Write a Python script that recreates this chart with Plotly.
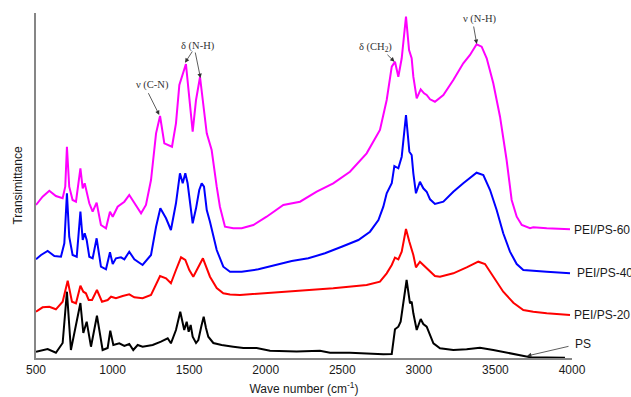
import plotly.graph_objects as go

# ---------------- data (wavenumber in cm^-1, transmittance in arbitrary units) ----------------
ps_wn = [500, 576, 630, 674, 702, 728, 790, 809, 831, 859, 898, 935, 968, 985, 1005, 1044, 1077, 1109,
         1135, 1164, 1196, 1262, 1316, 1360, 1381, 1414, 1442, 1468, 1484, 1497, 1510, 1523, 1545, 1560,
         1580, 1595, 1610, 1625, 1658, 1712, 1788, 1854, 1941, 2028, 2202, 2354, 2420, 2550, 2768, 2823,
         2844, 2866, 2881, 2920, 2942, 2953, 2964, 2986, 3012, 3029, 3051, 3073, 3095, 3138, 3225, 3312,
         3399, 3486, 3573, 3660, 3726, 3835, 3954]
ps_t = [6.3, 9, 5.3, 15, 66.3, 8, 55, 25, 36.3, 11.3, 42.3, 8, 10, 27.3, 13, 14.7, 12, 14,
        8, 13, 11.3, 13, 16.3, 19.7, 14.7, 28, 46.3, 28, 36.3, 26.3, 33, 21.3, 15, 18,
        32, 41.3, 30, 21.3, 15, 13, 11.3, 10, 10, 7.3, 6.5, 7.3, 5.3, 5.3, 3.7, 4,
        28.7, 31.3, 36.3, 78, 54.7, 56.3, 44.7, 28, 39, 34, 31.3, 23, 14.7, 9.7, 8, 8.7,
        10.3, 8, 5.3, 2.3, 0.8, 0.4, 0.2]

pei20_wn = [500, 543, 587, 630, 674, 707, 735, 761, 790, 809, 826, 844, 866, 898, 931, 968, 990, 1022,
            1066, 1109, 1142, 1196, 1251, 1310, 1349, 1381, 1414, 1447, 1475, 1501, 1527, 1566, 1590,
            1636, 1680, 1723, 1767, 1832, 1920, 2006, 2224, 2441, 2659, 2746, 2790, 2823, 2844, 2866,
            2888, 2916, 2938, 2953, 2964, 2981, 3007, 3029, 3062, 3105, 3138, 3225, 3312, 3388, 3432,
            3486, 3551, 3617, 3682, 3747, 3835, 3987]
pei20_t = [46.3, 50.7, 51.3, 48.7, 56.3, 77.3, 56.3, 54.7, 72.3, 66.3, 64.7, 58, 58, 68, 56.3, 58, 61.3, 59.7,
           62, 63.7, 60.7, 59.7, 63, 82, 79.7, 74.7, 88, 100.7, 98, 88, 81.3, 93, 99.7,
           81.3, 70, 64.7, 63.5, 63, 64, 64.7, 67, 69.7, 73, 76.3, 84.7, 93, 100.3, 98.7,
           106.3, 129, 116.3, 109.7, 103, 90.7, 96.3, 93, 88, 82, 81.3, 84.7, 90.7, 96.3, 94,
           81.3, 66.3, 55.3, 48, 46.3, 44.7, 43]

pei40_wn = [500, 533, 576, 620, 663, 685, 702, 717, 739, 766, 790, 805, 818, 831, 848, 870, 896, 924, 957,
            983, 1001, 1022, 1055, 1077, 1109, 1142, 1196, 1251, 1284, 1312, 1349, 1381, 1414, 1440, 1458,
            1475, 1490, 1506, 1523, 1545, 1566, 1582, 1597, 1615, 1636, 1680, 1723, 1767, 1843, 1952,
            2061, 2170, 2278, 2387, 2496, 2605, 2681, 2736, 2768, 2790, 2823, 2840, 2866, 2888, 2916,
            2938, 2953, 2964, 2981, 3007, 3029, 3051, 3073, 3105, 3160, 3225, 3290, 3334, 3377, 3421,
            3465, 3508, 3551, 3595, 3639, 3682, 3747, 3835, 3987]
pei40_t = [98.7, 103, 107, 102, 101.3, 114.7, 164.7, 121.3, 103, 101.3, 146.3, 118, 124.7, 118, 101.3, 99.7,
           119.7, 91.3, 88.7, 105.7, 94, 99.7, 100.7, 98.7, 106.3, 98.7, 93, 103, 131.3, 149.7, 139.7, 128,
           154.7, 184.7, 174.7, 184.7, 174.7, 154.7, 134.7, 149.7, 168, 174.7, 171.3, 148, 136.3, 108, 91.3,
           86.3, 86.3, 88.7, 93, 97, 99.7, 104.7, 111.3, 118, 126.3, 138, 151.3, 164.7, 174.7, 192, 189.7,
           201.3, 243, 206.3, 203, 184.7, 164.7, 176.3, 169.7, 166.3, 158.7, 154, 156.3, 166.3, 174.7,
           179.7, 185.3, 183, 168, 148, 124.7, 106.3, 94, 88, 87, 86.3, 84.7]

pei60_wn = [500, 543, 587, 630, 674, 691, 702, 717, 739, 761, 790, 805, 818, 831, 848, 870, 896, 924, 957,
            983, 1001, 1033, 1077, 1109, 1142, 1186, 1218, 1251, 1284, 1310, 1338, 1388, 1414, 1436, 1479,
            1506, 1523, 1545, 1571, 1615, 1647, 1680, 1701, 1734, 1788, 1843, 1919, 2006, 2115, 2224,
            2333, 2441, 2550, 2659, 2746, 2790, 2823, 2844, 2866, 2888, 2916, 2936, 2953, 2964, 2986,
            3012, 3034, 3051, 3073, 3105, 3160, 3225, 3290, 3334, 3377, 3410, 3443, 3486, 3530, 3573,
            3606, 3639, 3672, 3726, 3747, 3835, 3987]
pei60_t = [153, 161.3, 167.3, 162, 159.7, 171.3, 211.3, 171.3, 158, 156.3, 189.7, 169.7, 174.7, 166.3, 154.7,
           146.3, 155.3, 133, 129.7, 146.3, 141.3, 151.3, 156.3, 163, 154.7, 144.7, 153, 178, 224.7, 242,
           214.7, 211.3, 234.7, 273, 294, 251.3, 226.3, 258, 281, 224.7, 208, 171.3, 151.3, 131.3, 129.7,
           129.7, 133, 141.3, 153, 156.3, 166.3, 174.7, 186.3, 204.7, 228, 258, 291.3, 296.3, 281.3,
           299.7, 341.3, 308, 299.7, 281.3, 259.7, 268.7, 264.7, 263, 258.7, 256.3, 263, 278, 294.7, 303,
           313.7, 311.3, 299.7, 274.7, 241.3, 198, 158, 141.3, 133, 129.7, 130.7, 129.7, 128.7]

series_names = ["PS", "PEI/PS-20", "PEI/PS-40", "PEI/PS-60"]
x_ticks = [500, 1000, 1500, 2000, 2500, 3000, 3500, 4000]

# ---------------- figure ----------------
colors = ["#000000", "#FF0000", "#0000FF", "#FF00FF"]
all_wn = [ps_wn, pei20_wn, pei40_wn, pei60_wn]
all_t = [ps_t, pei20_t, pei40_t, pei60_t]

fig = go.Figure()
for name, wn, t, c in zip(series_names, all_wn, all_t, colors):
    fig.add_trace(go.Scatter(x=wn, y=t, mode="lines", name=name,
                             line=dict(color=c, width=2), showlegend=False))

annotations = []
# series labels at right end
label_pos = {"PEI/PS-60": (128, 0), "PEI/PS-40": (85.3, 3), "PEI/PS-20": (43, 0)}
for name, (yv, xs) in label_pos.items():
    annotations.append(dict(xref="paper", yref="y", x=1.0, y=yv, xanchor="left", yanchor="middle",
                            text=name, showarrow=False, xshift=xs,
                            font=dict(family="Liberation Sans, Arial", size=12, color="#1a1a1a")))
annotations.append(dict(xref="paper", yref="y", x=1.0, y=14, xanchor="left", yanchor="middle",
                        text="PS", showarrow=False, xshift=1,
                        font=dict(family="Liberation Sans, Arial", size=12, color="#1a1a1a")))

# peak assignment texts
peak_texts = [("ν (C-N)", 1258, 273), ("δ (N-H)", 1558, 312),
              ("δ (CH<sub>2</sub>)", 2720, 311), ("ν (N-H)", 3399, 339)]
for txt, xv, yv in peak_texts:
    annotations.append(dict(x=xv, y=yv, text=txt, showarrow=False, xanchor="center", yanchor="middle",
                            font=dict(family="Liberation Serif, Times New Roman", size=10.5, color="#333333")))

# arrows: (tail_x, tail_y, head_x, head_y)
arrows = [(1229, 266.3, 1305, 243), (1527, 308, 1473, 295.3), (1538, 307, 1574, 280),
          (2785, 304.7, 2841, 296.3), (3356, 333, 3378, 314), (3987, 12, 3706, 2)]
for tx, ty, hx, hy in arrows:
    annotations.append(dict(x=hx, y=hy, ax=tx, ay=ty, axref="x", ayref="y", text="",
                            showarrow=True, arrowhead=2, arrowsize=1.1, arrowwidth=0.8,
                            arrowcolor="#333333", standoff=0, startstandoff=0))

fig.update_layout(
    width=631, height=397,
    margin=dict(l=36, r=59, t=13, b=39, autoexpand=False),
    plot_bgcolor="white", paper_bgcolor="white",
    showlegend=False,
    annotations=annotations,
    font=dict(family="Liberation Sans, Arial", size=12, color="#1a1a1a"),
)
fig.update_xaxes(range=[500, 4000], tickvals=x_ticks, ticktext=[str(v) for v in x_ticks],
                 showline=True, linecolor="#868686", linewidth=1.5, showgrid=False, zeroline=False,
                 ticks="", tickfont=dict(size=12, color="#1a1a1a"), automargin=False,
                 title=dict(text="Wave number (cm<sup>-1</sup>)", standoff=8,
                            font=dict(size=12, color="#1a1a1a")))
fig.update_yaxes(range=[0, 345], showline=True, linecolor="#868686", linewidth=1.5, showgrid=False,
                 zeroline=False, showticklabels=False, ticks="", automargin=False,
                 title=dict(text="Transimittance", standoff=9, font=dict(size=12, color="#1a1a1a")))

# remove the default page margin so the 631x397 figure fills the window exactly
fig.write_html("out.html", config={"displayModeBar": False},
               post_script="document.body.style.margin='0';document.body.style.overflow='hidden';")
